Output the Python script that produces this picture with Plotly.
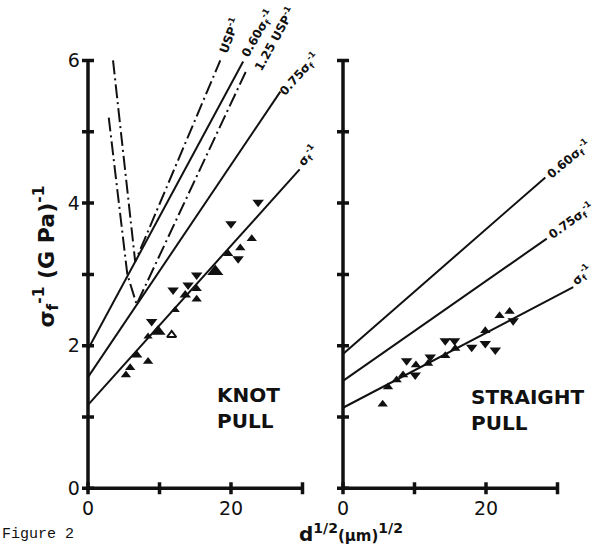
import plotly.graph_objects as go

# ---- data -------------------------------------------------------------
# Knot pull: measured reciprocal strengths
knot_up_x = [5.3, 5.9, 6.8, 8.4, 8.4, 9.8, 12.2, 13.6, 15.2, 15.2, 17.8, 19.6, 21.3, 22.9]
knot_up_y = [1.59, 1.69, 1.87, 1.78, 2.13, 2.20, 2.50, 2.71, 2.80, 2.65, 3.04, 3.29, 3.37, 3.50]
knot_up_size = [9, 9, 10, 9, 8, 13, 8, 10, 9, 9, 14, 9, 9, 9]
knot_open_x = [11.7]
knot_open_y = [2.15]
knot_down_x = [8.9, 11.9, 14.0, 15.2, 20.0, 21.0, 23.8]
knot_down_y = [2.34, 2.78, 2.85, 2.99, 3.71, 3.22, 4.01]

# Straight pull: measured reciprocal strengths
straight_up_x = [5.55, 6.3, 7.5, 8.4, 10.2, 11.9, 14.3, 15.7, 19.9, 21.9, 23.3]
straight_up_y = [1.18, 1.42, 1.52, 1.59, 1.73, 1.75, 1.86, 1.96, 2.21, 2.42, 2.48]
straight_down_x = [8.9, 10.1, 12.2, 14.3, 15.6, 18.0, 19.9, 21.3, 23.8]
straight_down_y = [1.79, 1.59, 1.84, 2.07, 2.07, 1.98, 2.03, 1.94, 2.35]

# Fitted reciprocal-strength lines: y = (a + b x) / factor
factors = [1.0, 0.75, 0.60]
factor_labels = ["σ<sub>f</sub><sup>-1</sup>",
                 "0.75σ<sub>f</sub><sup>-1</sup>",
                 "0.60σ<sub>f</sub><sup>-1</sup>"]
knot_a, knot_b = 1.17, 0.1116
knot_line_end = [29.6, 26.9, 21.7]
straight_a, straight_b = 1.13, 0.0525
straight_line_end = [32.2, 28.5, 28.3]

# USP requirement curves (knot pull)
usp_x = [3.5, 6.6, 18.5]
usp_y = [6.0, 3.18, 6.0]
usp125_x = [2.9, 5.5, 6.8, 22.2]
usp125_y = [5.2, 3.0, 2.58, 5.87]

y_ticks = [0, 2, 4, 6]
x_ticks = [0, 20]
y_marks = [0, 1, 2, 3, 4, 5, 6]
x_marks = [0, 10, 20, 30]

# ---- layout geometry --------------------------------------------------
W, H = 598, 549
PX_X = 7.15     # pixels per x unit
PX_Y = 71.7     # pixels per y unit
Y_RANGE = [-0.1, 6.25]
Y0_PIX = 491
LEFT_RANGE = [-1, 31.5]
RIGHT_RANGE = [-1, 33.5]


def x_domain(origin_px, rng):
    left = origin_px + rng[0] * PX_X
    right = origin_px + rng[1] * PX_X
    return [left / W, right / W]


bottom = Y0_PIX - Y_RANGE[0] * PX_Y
top = Y0_PIX - Y_RANGE[1] * PX_Y
y_dom = [(H - bottom) / H, (H - top) / H]

fig = go.Figure()

INK = "#111111"
tri_up = dict(symbol="triangle-up", color=INK, opacity=1, line=dict(width=0))
tri_dn = dict(symbol="triangle-down", color=INK, opacity=1, line=dict(width=0))
DASHDOT = "14px,4px,2px,4px"

# ---- knot pull panel --------------------------------------------------
for f, xe in zip(factors, knot_line_end):
    fig.add_trace(go.Scatter(x=[0, xe], y=[knot_a / f, (knot_a + knot_b * xe) / f],
                             mode="lines", line=dict(color=INK, width=2),
                             xaxis="x", yaxis="y", showlegend=False))
fig.add_trace(go.Scatter(x=usp_x, y=usp_y, mode="lines",
                         line=dict(color=INK, width=2, dash=DASHDOT),
                         xaxis="x", yaxis="y", showlegend=False))
fig.add_trace(go.Scatter(x=usp125_x, y=usp125_y, mode="lines",
                         line=dict(color=INK, width=2, dash=DASHDOT),
                         xaxis="x", yaxis="y", showlegend=False))
fig.add_trace(go.Scatter(x=knot_up_x, y=knot_up_y, mode="markers",
                         marker=dict(size=knot_up_size, **tri_up),
                         xaxis="x", yaxis="y", showlegend=False))
fig.add_trace(go.Scatter(x=knot_open_x, y=knot_open_y, mode="markers",
                         marker=dict(size=8, symbol="triangle-up-open", color=INK,
                                     opacity=1, line=dict(width=2)),
                         xaxis="x", yaxis="y", showlegend=False))
fig.add_trace(go.Scatter(x=knot_down_x, y=knot_down_y, mode="markers",
                         marker=dict(size=10, **tri_dn),
                         xaxis="x", yaxis="y", showlegend=False))

# ---- straight pull panel ----------------------------------------------
for f, xe in zip(factors, straight_line_end):
    fig.add_trace(go.Scatter(x=[0, xe], y=[straight_a / f, (straight_a + straight_b * xe) / f],
                             mode="lines", line=dict(color=INK, width=2),
                             xaxis="x2", yaxis="y2", showlegend=False))
fig.add_trace(go.Scatter(x=straight_up_x, y=straight_up_y, mode="markers",
                         marker=dict(size=9, **tri_up),
                         xaxis="x2", yaxis="y2", showlegend=False))
fig.add_trace(go.Scatter(x=straight_down_x, y=straight_down_y, mode="markers",
                         marker=dict(size=10, **tri_dn),
                         xaxis="x2", yaxis="y2", showlegend=False))

# ---- axes drawn as thick spines with crossing ticks -------------------
shapes = []
for xr, yr in (("x", "y"), ("x2", "y2")):
    shapes.append(dict(type="line", xref=xr, yref=yr, x0=0, x1=0, y0=0, y1=6,
                       line=dict(color=INK, width=3.5)))
    shapes.append(dict(type="line", xref=xr, yref=yr, x0=0, x1=30, y0=0, y1=0,
                       line=dict(color=INK, width=3.5)))
    for v in y_marks:
        shapes.append(dict(type="line", xref=xr, yref=yr, xsizemode="pixel", xanchor=0,
                           x0=-6, x1=6, y0=v, y1=v, line=dict(color=INK, width=3.5)))
    for v in x_marks:
        shapes.append(dict(type="line", xref=xr, yref=yr, ysizemode="pixel", yanchor=0,
                           y0=-6, y1=6, x0=v, x1=v, line=dict(color=INK, width=3.5)))

# ---- annotations ------------------------------------------------------
ann = []
lab_font = dict(family="DejaVu Sans", size=12, color=INK)

# line labels, knot pull
knot_label_shift = [(8, 13, -50), (19, 18, -48), (15, 28, -60)]
for f, xe, txt, (dx, dy, ang) in zip(factors, knot_line_end, factor_labels, knot_label_shift):
    ann.append(dict(x=xe, y=(knot_a + knot_b * xe) / f, xref="x", yref="y",
                    text="<b>" + txt + "</b>", showarrow=False, textangle=ang,
                    xshift=dx, yshift=dy, font=lab_font))
ann.append(dict(x=usp_x[-1], y=usp_y[-1], xref="x", yref="y",
                text="<b>USP<sup>-1</sup></b>", showarrow=False, textangle=-69,
                xshift=9, yshift=25, font=lab_font))
ann.append(dict(x=usp125_x[-1], y=usp125_y[-1], xref="x", yref="y",
                text="<b>1.25 USP<sup>-1</sup></b>", showarrow=False, textangle=-61,
                xshift=27, yshift=31, font=lab_font))

# line labels, straight pull
straight_label_shift = [(9, 12, -45), (24, 18, -36), (24, 18, -40)]
for f, xe, txt, (dx, dy, ang) in zip(factors, straight_line_end, factor_labels, straight_label_shift):
    ann.append(dict(x=xe, y=(straight_a + straight_b * xe) / f, xref="x2", yref="y2",
                    text="<b>" + txt + "</b>", showarrow=False, textangle=ang,
                    xshift=dx, yshift=dy, font=lab_font))

big_font = dict(family="DejaVu Sans", size=20, color=INK)
ann.append(dict(x=215 / W, y=1 - 383 / H, xref="paper", yref="paper",
                xanchor="left", yanchor="top", align="left",
                text="<b>KNOT<br>PULL</b>", showarrow=False, font=big_font))
ann.append(dict(x=469 / W, y=1 - 385 / H, xref="paper", yref="paper",
                xanchor="left", yanchor="top", align="left",
                text="<b>STRAIGHT<br>PULL</b>", showarrow=False, font=big_font))

# axis titles
ann.append(dict(x=28 / W, y=1 - 258 / H, xref="paper", yref="paper",
                text="<b>σ<sub>f</sub><sup>-1</sup> (G Pa)<sup>-1</sup></b>",
                textangle=-90, showarrow=False,
                font=dict(family="DejaVu Sans", size=22, color=INK)))
ann.append(dict(x=297 / W, y=1 - 536 / H, xref="paper", yref="paper",
                xanchor="left", yanchor="middle",
                text="<b>d<sup>1/2</sup><span style='font-size:15px'>(μm)</span><sup>1/2</sup></b>",
                showarrow=False, font=dict(family="DejaVu Sans", size=20, color=INK)))
ann.append(dict(x=0, y=1 - 537 / H, xref="paper", yref="paper",
                xanchor="left", yanchor="middle", text="Figure 2", showarrow=False,
                font=dict(family="Liberation Mono", size=15, color=INK)))

tick_font = dict(family="DejaVu Sans", size=19, color=INK)
axis_common = dict(showgrid=False, zeroline=False, showline=False, ticks="",
                   tickfont=tick_font, fixedrange=True)

fig.update_layout(
    width=W, height=H, margin=dict(l=0, r=0, t=0, b=0),
    paper_bgcolor="white", plot_bgcolor="white",
    showlegend=False,
    xaxis=dict(domain=x_domain(88, LEFT_RANGE), range=LEFT_RANGE, anchor="y",
               tickvals=x_ticks, **axis_common),
    yaxis=dict(domain=y_dom, range=Y_RANGE, anchor="x",
               tickvals=y_ticks, **axis_common),
    xaxis2=dict(domain=x_domain(343, RIGHT_RANGE), range=RIGHT_RANGE, anchor="y2",
                tickvals=x_ticks, **axis_common),
    yaxis2=dict(domain=y_dom, range=Y_RANGE, anchor="x2",
                tickvals=y_ticks, showticklabels=False, **axis_common),
    shapes=shapes,
    annotations=ann,
)

fig.write_html("out.html")
